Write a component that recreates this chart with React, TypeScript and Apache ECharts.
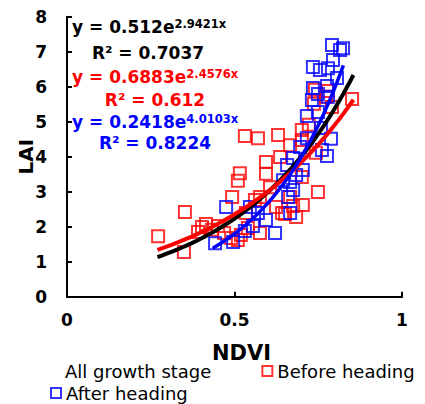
import React, { useEffect, useRef } from "react";
import * as echarts from "echarts";

// NDVI, LAI — before heading (red squares)
const beforeHeading: [number, number][] = [
  [0.272, 1.73], [0.352, 2.42], [0.349, 1.28], [0.391, 1.85], [0.403, 1.99],
  [0.415, 2.08], [0.433, 1.91], [0.451, 2.02], [0.469, 1.82], [0.49, 1.68],
  [0.51, 1.62], [0.519, 1.76], [0.54, 1.96], [0.534, 2.39], [0.493, 2.85],
  [0.51, 3.31], [0.516, 3.53], [0.531, 4.59], [0.57, 4.53], [0.63, 4.62],
  [0.666, 4.33], [0.636, 3.99], [0.594, 3.85], [0.594, 3.51], [0.606, 3.13],
  [0.561, 2.76], [0.576, 2.85], [0.576, 1.82], [0.624, 2.56], [0.642, 2.39],
  [0.651, 2.36], [0.675, 2.59], [0.666, 2.85], [0.684, 2.28], [0.704, 2.62],
  [0.701, 3.42], [0.749, 2.99], [0.701, 4.48], [0.701, 4.76], [0.722, 4.91],
  [0.743, 4.11], [0.737, 5.51], [0.74, 5.91], [0.773, 5.71], [0.779, 5.88],
  [0.791, 5.42], [0.851, 5.65],
];

// NDVI, LAI — after heading (blue squares)
const afterHeading: [number, number][] = [
  [0.442, 1.53], [0.475, 2.56], [0.496, 1.56], [0.531, 1.88], [0.555, 2.02],
  [0.546, 2.56], [0.57, 2.39], [0.594, 2.19], [0.621, 1.82], [0.666, 2.39],
  [0.66, 2.85], [0.675, 3.05], [0.666, 3.28], [0.645, 3.33], [0.684, 3.48],
  [0.704, 3.62], [0.657, 3.76], [0.675, 3.96], [0.696, 4.28], [0.716, 4.53],
  [0.758, 4.82], [0.788, 4.51], [0.761, 4.19], [0.776, 4.02], [0.716, 5.16],
  [0.749, 5.28], [0.779, 5.71], [0.731, 5.62], [0.749, 5.79], [0.734, 5.96],
  [0.776, 6.02], [0.806, 6.25], [0.734, 6.56], [0.755, 6.48], [0.779, 6.53],
  [0.794, 6.76], [0.815, 7.05], [0.791, 7.19], [0.824, 7.1],
];

// Exponential trend lines shown on the chart: y = a * e^(b x), over NDVI range
const fitAll = { a: 0.512, b: 2.9421, from: 0.27, to: 0.855 };
const fitBefore = { a: 0.6883, b: 2.4576, from: 0.27, to: 0.855 };
const fitAfter = { a: 0.2418, b: 4.0103, from: 0.435, to: 0.825 };

const equationTexts = [
  { main: "y = 0.512e", sup: "2.9421x", r2: "R² = 0.7037", color: "#000000" },
  { main: "y = 0.6883e", sup: "2.4576x", r2: "R² = 0.612", color: "#FF0000" },
  { main: "y = 0.2418e", sup: "4.0103x", r2: "R² = 0.8224", color: "#0000FF" },
];

const xTicks = { min: 0, max: 1, interval: 0.5 };
const yTicks = { min: 0, max: 8, interval: 1 };

const FONT = "DejaVu Sans";

function trend(f: { a: number; b: number; from: number; to: number }) {
  const pts: [number, number][] = [];
  const n = 40;
  for (let i = 0; i <= n; i++) {
    const x = f.from + ((f.to - f.from) * i) / n;
    pts.push([x, f.a * Math.exp(f.b * x)]);
  }
  return pts;
}

export default function App() {
  const ref = useRef<HTMLDivElement>(null);
  useEffect(() => {
    if (!ref.current) return;
    const chart = echarts.init(ref.current, undefined, { renderer: "svg" });
    const eqPos = [
      { y: 28, r2x: 148, r2y: 53 },
      { y: 78, r2x: 155, r2y: 100 },
      { y: 123, r2x: 155, r2y: 143 },
    ];
    const graphics: any[] = [];
    equationTexts.forEach((e, i) => {
      graphics.push({
        type: "text",
        left: 72,
        top: eqPos[i].y - 10,
        style: {
          text: `{a|${e.main}}{b|${e.sup}}`,
          rich: {
            a: { fontSize: 17, fontWeight: "bold", fontFamily: FONT, fill: e.color, verticalAlign: "bottom" },
            b: { fontSize: 11.5, fontWeight: "bold", fontFamily: FONT, fill: e.color, verticalAlign: "top" },
          },
        },
      });
      graphics.push({
        type: "text",
        x: eqPos[i].r2x,
        y: eqPos[i].r2y,
        style: {
          text: e.r2,
          fontSize: 17,
          fontWeight: "bold",
          fontFamily: FONT,
          fill: e.color,
          align: "center",
          verticalAlign: "middle",
        },
      });
    });

    const labelStyle = { fontFamily: FONT, fontWeight: "bold" as const, fontSize: 17, color: "#000" };
    const axisCommon = {
      axisLine: { show: true, lineStyle: { color: "#000", width: 2 } },
      axisTick: { show: true, inside: true, length: 5, lineStyle: { color: "#000", width: 2 } },
      splitLine: { show: false },
    };

    chart.setOption({
      animation: false,
      grid: { left: 67, right: 23, top: 16.7, bottom: 107.3 },
      xAxis: {
        type: "value",
        ...xTicks,
        ...axisCommon,
        axisLabel: { ...labelStyle, margin: 15 },
        name: "NDVI",
        nameLocation: "middle",
        nameGap: 46,
        nameMoveOverlap: false,
        nameTextStyle: { fontFamily: FONT, fontWeight: "bold", fontSize: 21, color: "#000", padding: [0, 0, 0, 14] },
      },
      yAxis: {
        type: "value",
        ...yTicks,
        ...axisCommon,
        axisLabel: { ...labelStyle, margin: 20 },
        name: "LAI",
        nameLocation: "middle",
        nameGap: 31,
        nameMoveOverlap: false,
        nameTextStyle: { fontFamily: FONT, fontWeight: "bold", fontSize: 20, color: "#000" },
      },
      legend: [
        {
          left: 45,
          top: 357,
          itemWidth: 10,
          itemHeight: 10,
          itemGap: 50,
          textStyle: { fontFamily: FONT, fontSize: 18, color: "#000" },
          data: [
            {
              name: "All growth stage",
              icon: "rect",
              itemStyle: { color: "rgba(0,0,0,0)", borderWidth: 0, opacity: 0 },
              lineStyle: { opacity: 0, width: 0 },
            },
            {
              name: "Before heading",
              icon: "rect",
              itemStyle: { color: "rgba(0,0,0,0)", borderColor: "#FF0000", borderWidth: 2 },
            },
          ],
        },
        {
          left: 45,
          top: 379,
          itemWidth: 10,
          itemHeight: 10,
          textStyle: { fontFamily: FONT, fontSize: 18, color: "#000" },
          data: [
            {
              name: "After heading",
              icon: "rect",
              itemStyle: { color: "rgba(0,0,0,0)", borderColor: "#0000FF", borderWidth: 2 },
            },
          ],
        },
      ],
      series: [
        {
          name: "Before heading",
          type: "scatter",
          data: beforeHeading,
          symbol: "rect",
          symbolSize: 12,
          itemStyle: { color: "rgba(0,0,0,0)", borderColor: "#FF0000", borderWidth: 2 },
          z: 2,
        },
        {
          name: "After heading",
          type: "scatter",
          data: afterHeading,
          symbol: "rect",
          symbolSize: 12,
          itemStyle: { color: "rgba(0,0,0,0)", borderColor: "#0000FF", borderWidth: 2 },
          z: 2,
        },
        {
          name: "All growth stage",
          type: "line",
          data: trend(fitAll),
          showSymbol: false,
          symbol: "none",
          lineStyle: { color: "#000", width: 4 },
          itemStyle: { color: "#000" },
          silent: true,
          z: 3,
        },
        {
          name: "Fit before heading",
          type: "line",
          data: trend(fitBefore),
          showSymbol: false,
          symbol: "none",
          lineStyle: { color: "#FF0000", width: 4 },
          silent: true,
          z: 4,
        },
        {
          name: "Fit after heading",
          type: "line",
          data: trend(fitAfter),
          showSymbol: false,
          symbol: "none",
          lineStyle: { color: "#0000FF", width: 3.5 },
          silent: true,
          z: 5,
        },
      ],
      graphic: graphics,
    });
    return () => chart.dispose();
  }, []);
  return (
    <div
      ref={ref}
      style={{ position: "fixed", left: 0, top: 0, width: 425, height: 404, background: "#fff" }}
    />
  );
}
